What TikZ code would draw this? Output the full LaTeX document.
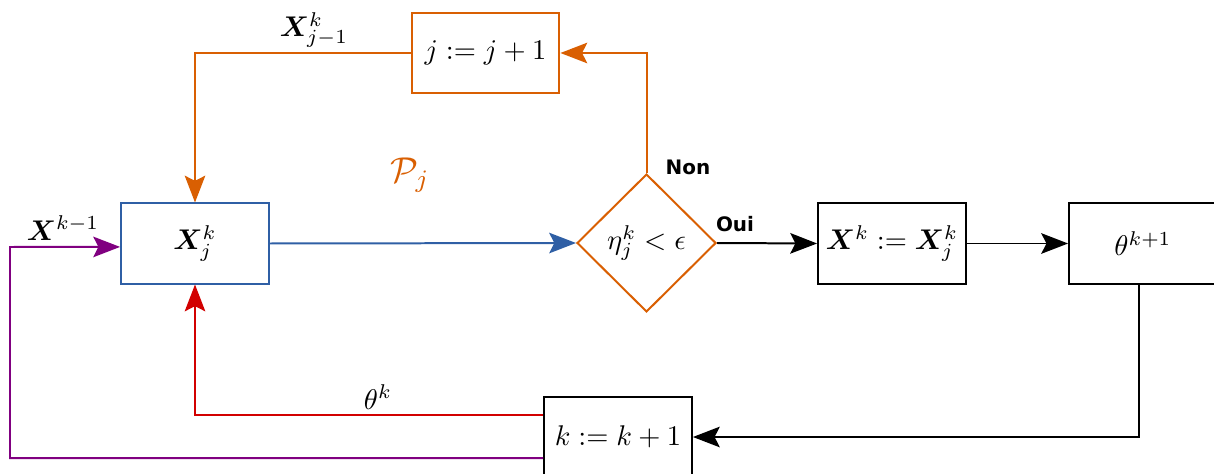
\RequirePackage{fix-cm}
\documentclass[tikz,border=0pt]{standalone}
\usepackage{amsmath,bm}
\usepackage{fontspec}
\newfontfamily\labfont{DejaVu Sans}
\usetikzlibrary{shapes.geometric,arrows.meta}
\definecolor{cor}{RGB}{217,95,2}
\definecolor{cblue}{RGB}{47,95,165}
\definecolor{cred}{RGB}{210,0,0}
\definecolor{cpur}{RGB}{128,0,128}
\begin{document}
\begin{tikzpicture}[x=0.351pt,y=-0.351pt,
  every node/.style={font=\fontsize{10}{12}\selectfont},
  box/.style={draw,line width=0.7pt,minimum width=51.9pt,minimum height=28.1pt,inner sep=0pt},
  link/.style={line width=0.7pt,-{Stealth[length=9.4pt,width=7.2pt,inset=1.8pt]}},
  lab/.style={font=\labfont\bfseries\fontsize{7}{8.4}\selectfont}]
\useasboundingbox (0,0) rectangle (1214,474);
\node[box,draw=cblue] (X) at (195,243.5) {$\bm{X}_j^k$};
\node[box,draw=cor] (J) at (485.5,53) {$j:=j+1$};
\node[diamond,draw=cor,line width=0.7pt,minimum width=48.8pt,minimum height=48.4pt,inner sep=0pt] (D) at (646.5,243) {$\eta_j^k<\epsilon$};
\node[box] (A) at (892,243.5) {$\bm{X}^k:=\bm{X}_j^k$};
\node[box] (T) at (1143,243.5) {$\theta^{k+1}$};
\node[box] (K) at (618,437) {$k:=k+1$};
\coordinate (pc) at (10,247);
\draw[link,cblue] (X.east) -- (D.west);
\draw[link,cor] (D.north) |- (J.east);
\draw[link,cor] (J.west) -| (X.north);
\draw[link] (D.east) -- (A.west);
\draw[link] (A.east) -- (T.west);
\draw[link] ([xshift=-1.4pt]T.south) |- (K.east);
\draw[link,cred] ([yshift=7.55pt]K.west) -| (X.south);
\draw[link,cpur] ([yshift=-7.4pt]K.west) -| (pc) -- ([yshift=-1.2pt]X.west);
\node (l1) at (314,30) {$\bm{X}_{j-1}^k$};
\node (l2) at (63,228) {$\bm{X}^{k-1}$};
\node (l3) at (378,397) {$\theta^k$};
\node[text=cor,font=\fontsize{12.6}{15}\selectfont] (lp) at (410,175) {$\mathcal{P}_j$};
\node[lab] (ln) at (688,167) {Non};
\node[lab] (lo) at (735,224) {Oui};
\end{tikzpicture}
\end{document}
